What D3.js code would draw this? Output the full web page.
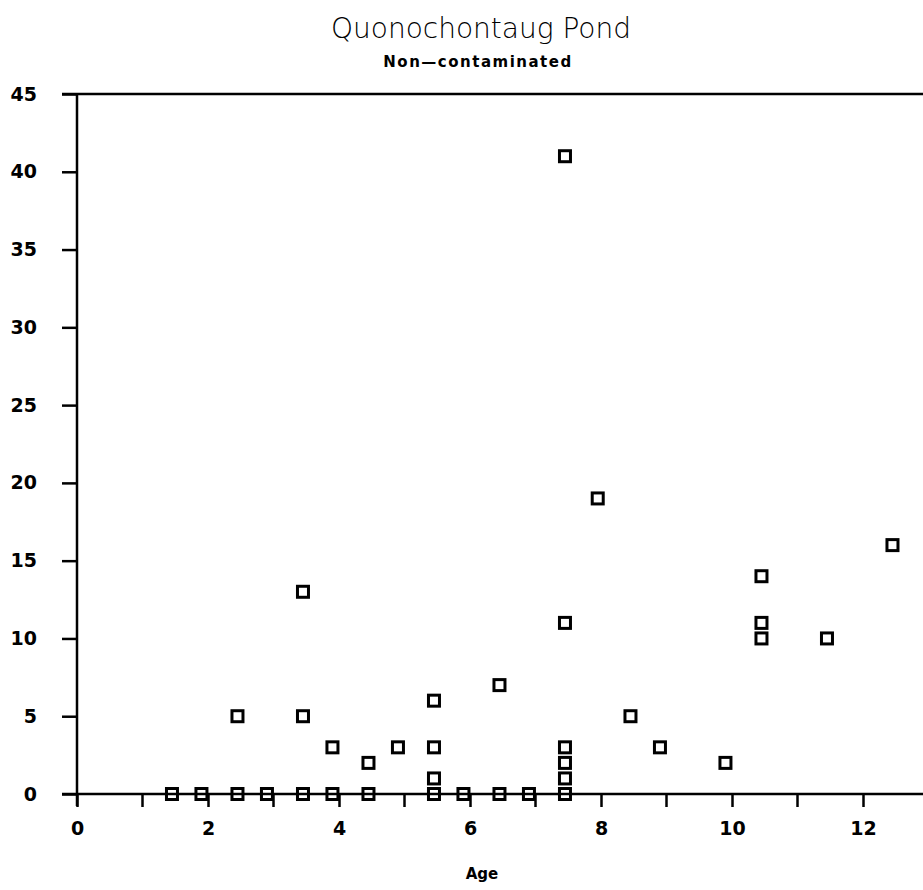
<!DOCTYPE html>
<html>
<head>
<meta charset="utf-8">
<script src="https://cdn.jsdelivr.net/npm/d3@7.9.0/dist/d3.min.js"></script>
<style>
  body { margin: 0; background: #fff; }
  svg { display: block; }
</style>
</head>
<body>
<div id="chart"></div>
<script>
// ages and counts
const ages = [1.45, 1.9, 2.45, 2.9, 3.45, 3.9, 4.45, 5.45, 5.9, 6.45, 6.9, 7.45,
  2.45, 3.45, 3.45, 3.9, 4.45, 4.9, 5.45, 5.45, 5.45, 6.45,
  7.45, 7.45, 7.45, 7.45, 7.45, 7.95, 8.45, 8.9, 9.9,
  10.45, 10.45, 10.45, 11.45, 12.45];
const counts = [0, 0, 0, 0, 0, 0, 0, 0, 0, 0, 0, 0,
  5, 13, 5, 3, 2, 3, 6, 3, 1, 7,
  41, 11, 3, 2, 1, 19, 5, 3, 2,
  14, 11, 10, 10, 16];
const xTicks = [0, 2, 4, 6, 8, 10, 12];
const xMinor = [1, 3, 5, 7, 9, 11];
const yTicks = [0, 5, 10, 15, 20, 25, 30, 35, 40, 45];
const yLabels = ['0', '5', '10', '15', '20', '25', '30', '35', '40', '45'];

const width = 923, height = 890;
const svg = d3.select('#chart').append('svg')
  .attr('width', width)
  .attr('height', height);

const x = d3.scaleLinear().domain([0, 13]).range([77, 928.5]);
const y = d3.scaleLinear().domain([0, 45]).range([794, 94]);

const ink = '#000';
const tickFont = 'DejaVu Sans, sans-serif';

// titles
svg.append('text')
  .attr('x', 481).attr('y', 38)
  .attr('text-anchor', 'middle')
  .style('font-family', 'DejaVu Sans, sans-serif')
  .style('font-size', '28px')
  .style('font-weight', 300)
  .text('Quonochontaug Pond');

svg.append('text')
  .attr('x', 478).attr('y', 67)
  .attr('text-anchor', 'middle')
  .style('font-family', tickFont)
  .style('font-size', '15px')
  .style('font-weight', 'bold')
  .style('letter-spacing', '1.5px')
  .text('Non—contaminated');

// top frame line
svg.append('line')
  .attr('x1', 62).attr('x2', width)
  .attr('y1', y(45)).attr('y2', y(45))
  .attr('stroke', ink).attr('stroke-width', 2.5);

// left axis
const yAxis = d3.axisLeft(y)
  .tickValues(yTicks)
  .tickFormat((d, i) => yLabels[i])
  .tickSize(15)
  .tickPadding(25);
const gy = svg.append('g')
  .attr('transform', `translate(${x(0)},0)`)
  .call(yAxis);
gy.select('.domain').remove();
gy.selectAll('line').attr('stroke', ink).attr('stroke-width', 2.5);
gy.selectAll('text')
  .style('font-family', tickFont)
  .style('font-size', '19px')
  .style('font-weight', 'bold')
  .attr('fill', ink);
gy.append('line')
  .attr('x1', 0).attr('x2', 0)
  .attr('y1', y(45)).attr('y2', y(0) + 12)
  .attr('stroke', ink).attr('stroke-width', 2.5);

// bottom axis
const xAxis = d3.axisBottom(x)
  .tickValues(xTicks)
  .tickFormat(d3.format('d'))
  .tickSize(13)
  .tickPadding(15);
const gx = svg.append('g')
  .attr('transform', `translate(0,${y(0)})`)
  .call(xAxis);
gx.select('.domain').remove();
gx.selectAll('line').attr('stroke', ink).attr('stroke-width', 2.5);
gx.selectAll('text')
  .style('font-family', tickFont)
  .style('font-size', '19px')
  .style('font-weight', 'bold')
  .attr('fill', ink);
gx.selectAll('.minor')
  .data(xMinor)
  .enter()
  .append('line')
  .attr('x1', (d) => x(d)).attr('x2', (d) => x(d))
  .attr('y1', 0).attr('y2', 13)
  .attr('stroke', ink).attr('stroke-width', 2.5);
gx.append('line')
  .attr('x1', 62).attr('x2', width)
  .attr('y1', 0).attr('y2', 0)
  .attr('stroke', ink).attr('stroke-width', 2.5);

svg.append('text')
  .attr('x', 482).attr('y', 879)
  .attr('text-anchor', 'middle')
  .style('font-family', tickFont)
  .style('font-size', '15px')
  .style('font-weight', 'bold')
  .text('Age');

// open square markers
const pts = ages.map((a, i) => ({ age: a, n: counts[i] }));
svg.append('g')
  .selectAll('rect')
  .data(pts)
  .enter()
  .append('rect')
  .attr('x', (d) => x(d.age) - 5.5)
  .attr('y', (d) => y(d.n) - 5.5)
  .attr('width', 11)
  .attr('height', 11)
  .attr('fill', 'none')
  .attr('stroke', ink)
  .attr('stroke-width', 3);
</script>
</body>
</html>
